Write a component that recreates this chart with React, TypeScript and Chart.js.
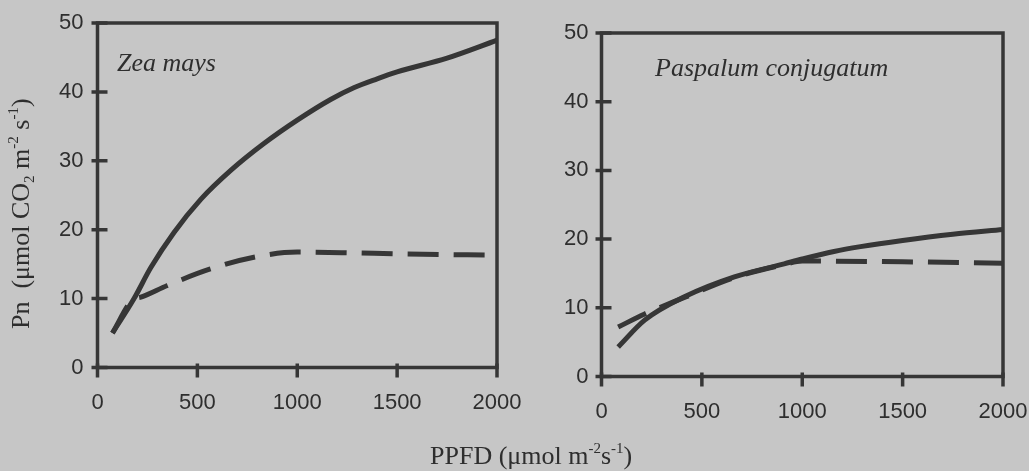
import React, { useEffect, useRef } from "react";
import { Chart, registerables } from "chart.js";

Chart.register(...registerables);

// ---------- data ----------
const xTicks = [0, 500, 1000, 1500, 2000];
const yTicks = [0, 10, 20, 30, 40, 50];

const zeaSolidX = [75, 183, 267, 383, 517, 667, 833, 1000, 1167, 1283, 1400, 1500, 1750, 2000];
const zeaSolidY = [5, 10, 14.5, 19.6, 24.4, 28.6, 32.5, 35.9, 38.9, 40.6, 41.9, 42.9, 44.9, 47.5];
const zeaDashX = [75, 175, 217, 350, 565, 783, 1000, 1265, 1500, 2000];
const zeaDashY = [5, 9.8, 10.2, 11.9, 14.3, 16.0, 16.75, 16.65, 16.5, 16.3];

const pasSolidX = [83, 215, 413, 662, 910, 1000, 1158, 1290, 1500, 1750, 2000];
const pasSolidY = [4.3, 8.2, 11.6, 14.5, 16.4, 17.1, 18.2, 18.9, 19.8, 20.7, 21.4];
const pasDashX = [83, 215, 413, 662, 910, 1000, 1500, 2000];
const pasDashY = [7.2, 9.1, 11.5, 14.4, 16.3, 16.8, 16.7, 16.5];

const speciesLeft = "Zea mays";
const speciesRight = "Paspalum conjugatum";

// ---------- styles ----------
const BG = "#c6c6c6";
const INK = "#363636";
const TXT = "#2e2e2e";
const SERIF = "'Liberation Serif', 'Times New Roman', serif";
const SANS = "'Liberation Sans', Arial, sans-serif";

type Run = { t: string; k?: "sup" | "sub" };
const yTitleRuns: Run[] = [
  { t: "Pn  (\u03bcmol CO" },
  { t: "2", k: "sub" },
  { t: " m" },
  { t: "-2", k: "sup" },
  { t: " s" },
  { t: "-1", k: "sup" },
  { t: ")" },
];

const toPts = (xs: number[], ys: number[]) => xs.map((x, i) => ({ x, y: ys[i] }));

const framePlugin = {
  id: "framePlugin",
  afterDatasetsDraw(chart: any, _args: any, opts: any) {
    const { ctx, chartArea } = chart;
    const xs = chart.scales.x;
    const ys = chart.scales.y;
    ctx.save();
    ctx.strokeStyle = INK;
    ctx.lineWidth = 3.5;
    ctx.lineCap = "butt";
    ctx.strokeRect(chartArea.left, chartArea.top, chartArea.right - chartArea.left, chartArea.bottom - chartArea.top);
    ctx.beginPath();
    yTicks.forEach((v) => {
      const y = ys.getPixelForValue(v);
      ctx.moveTo(chartArea.left - 6, y);
      ctx.lineTo(chartArea.left + 10, y);
    });
    xTicks.forEach((v) => {
      const x = xs.getPixelForValue(v);
      ctx.moveTo(x, chartArea.bottom - 4);
      ctx.lineTo(x, chartArea.bottom + 10);
    });
    ctx.stroke();

    // species label
    ctx.fillStyle = TXT;
    ctx.font = `italic 26px ${SERIF}`;
    ctx.textBaseline = "alphabetic";
    ctx.textAlign = "left";
    ctx.fillText(opts.label, opts.labelX, opts.labelY);

    // rotated y title
    if (opts.yTitle) {
      ctx.translate(opts.yTitleX, opts.yTitleY);
      ctx.rotate(-Math.PI / 2);
      let cx = 0;
      yTitleRuns.forEach((r) => {
        const size = r.k ? 15 : 26;
        ctx.font = `${size}px ${SERIF}`;
        const dy = r.k === "sup" ? -11 : r.k === "sub" ? 5 : 0;
        ctx.fillText(r.t, cx, dy);
        cx += ctx.measureText(r.t).width;
      });
    }
    ctx.restore();
  },
};

type PanelProps = {
  left: number;
  width: number;
  axisLeft: number;
  padTop: number;
  padRight: number;
  xAxisH: number;
  solid: { x: number; y: number }[];
  dash: { x: number; y: number }[];
  label: string;
  labelX: number;
  labelY: number;
  yTitle: boolean;
  yPad: number;
};

function Panel(p: PanelProps) {
  const ref = useRef<HTMLCanvasElement | null>(null);
  useEffect(() => {
    if (!ref.current) return;
    const chart = new Chart(ref.current, {
      type: "line",
      data: {
        datasets: [
          {
            data: p.solid,
            borderColor: INK,
            borderWidth: 5,
            pointRadius: 0,
            fill: false,
            cubicInterpolationMode: "monotone",
            borderCapStyle: "butt",
          },
          {
            data: p.dash,
            borderColor: INK,
            borderWidth: 5,
            borderDash: [31, 15],
            pointRadius: 0,
            fill: false,
            cubicInterpolationMode: "monotone",
            borderCapStyle: "butt",
          },
        ],
      },
      options: {
        animation: false,
        responsive: false,
        maintainAspectRatio: false,
        layout: { padding: { top: p.padTop, right: p.padRight, bottom: 0, left: 0 } },
        plugins: {
          legend: { display: false },
          tooltip: { enabled: false },
          framePlugin: {
            label: p.label,
            labelX: p.labelX,
            labelY: p.labelY,
            yTitle: p.yTitle,
            yTitleX: 29,
            yTitleY: 329,
          },
        } as any,
        scales: {
          x: {
            type: "linear",
            min: 0,
            max: 2000,
            grid: { display: false, drawTicks: false },
            border: { display: false },
            ticks: {
              stepSize: 500,
              padding: 22,
              color: TXT,
              font: { family: SANS, size: 22 },
              maxRotation: 0,
              callback: (v: any) => String(v),
            },
            afterFit: (s: any) => {
              s.height = p.xAxisH;
              s.paddingLeft = 0;
              s.paddingRight = 0;
            },
          },
          y: {
            type: "linear",
            min: 0,
            max: 50,
            grid: { display: false, drawTicks: false },
            border: { display: false },
            ticks: {
              stepSize: 10,
              padding: p.yPad,
              color: TXT,
              font: { family: SANS, size: 22 },
              callback: (v: any) => String(v),
            },
            afterFit: (s: any) => {
              s.width = p.axisLeft;
              s.paddingTop = 0;
              s.paddingBottom = 0;
            },
          },
        },
      },
      plugins: [framePlugin],
    } as any);
    return () => chart.destroy();
  }, []);
  return (
    <canvas
      ref={ref}
      width={p.width}
      height={471}
      style={{ position: "absolute", left: p.left, top: 0, width: p.width, height: 471 }}
    />
  );
}

export default function App() {
  const supStyle: React.CSSProperties = { fontSize: 15, position: "relative", top: -11 };
  return (
    <div
      style={{
        position: "fixed",
        left: 0,
        top: 0,
        width: 1029,
        height: 471,
        background: BG,
        overflow: "hidden",
      }}
    >
      <Panel
        left={0}
        width={530}
        axisLeft={97.5}
        padTop={23}
        padRight={33}
        xAxisH={103.5}
        solid={toPts(zeaSolidX, zeaSolidY)}
        dash={toPts(zeaDashX, zeaDashY)}
        label={speciesLeft}
        labelX={117}
        labelY={71}
        yTitle={true}
        yPad={14}
      />
      <Panel
        left={530}
        width={499}
        axisLeft={71.5}
        padTop={33}
        padRight={26}
        xAxisH={94.5}
        solid={toPts(pasSolidX, pasSolidY)}
        dash={toPts(pasDashX, pasDashY)}
        label={speciesRight}
        labelX={125}
        labelY={76}
        yTitle={false}
        yPad={13}
      />
      <div
        style={{
          position: "absolute",
          left: 430,
          top: 443,
          fontFamily: SERIF,
          fontSize: 26,
          lineHeight: "26px",
          color: TXT,
          whiteSpace: "pre",
        }}
      >
        {"PPFD (\u03bcmol m"}
        <span style={supStyle}>-2</span>s<span style={supStyle}>-1</span>)
      </div>
    </div>
  );
}
